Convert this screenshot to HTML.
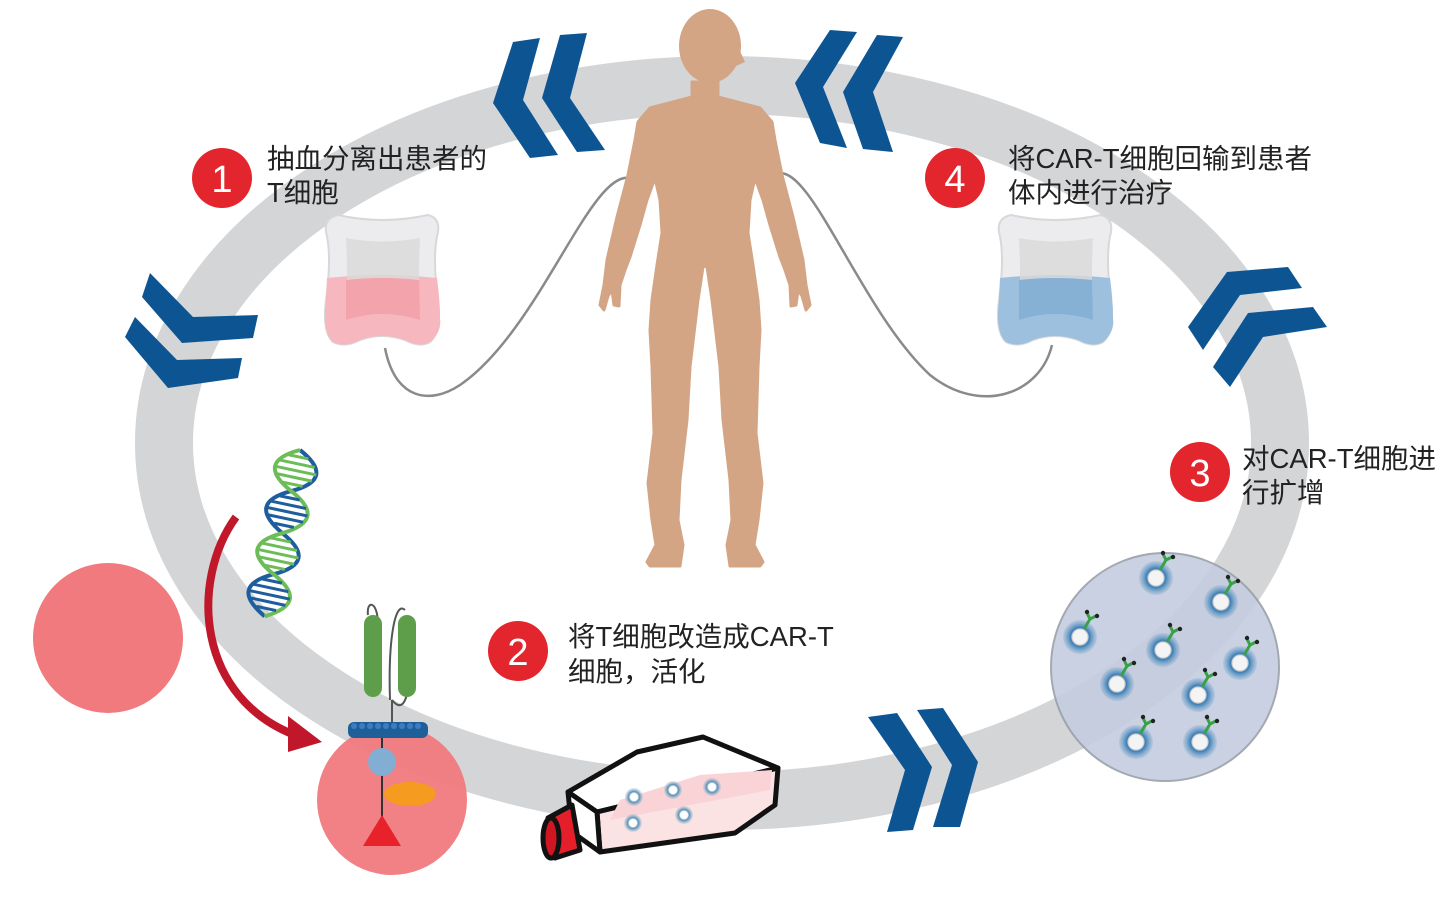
<!DOCTYPE html>
<html><head><meta charset="utf-8"><style>
html,body{margin:0;padding:0;background:#fff;}
svg{display:block}
text{font-family:"Liberation Sans","Noto Sans CJK SC",sans-serif;font-size:27.5px;fill:#222}
</style></head><body>
<svg width="1447" height="921" viewBox="0 0 1447 921" xmlns="http://www.w3.org/2000/svg">
<defs>
<radialGradient id="cg" cx="50%" cy="50%" r="50%"><stop offset="0" stop-color="#fff"/><stop offset="0.35" stop-color="#e8eef2"/><stop offset="0.55" stop-color="#3d7fb5"/><stop offset="1" stop-color="#6aa0c8" stop-opacity="0.2"/></radialGradient>
<radialGradient id="fg" cx="50%" cy="50%" r="50%"><stop offset="0" stop-color="#fff"/><stop offset="0.4" stop-color="#fff"/><stop offset="0.6" stop-color="#5a8fb5"/><stop offset="1" stop-color="#9fc0d8" stop-opacity="0.3"/></radialGradient>
<g id="tc"><circle r="17" fill="url(#cg)"/><circle r="8" fill="#f4f4f4" stroke="#ccc"/><path d="M4 -8 L10 -18 M10 -18 L7 -24 M10 -18 L16 -21" stroke="#3aa048" stroke-width="3" fill="none"/><circle cx="7" cy="-25" r="2.2" fill="#222"/><circle cx="17" cy="-21" r="2.2" fill="#222"/></g>
</defs>

<!-- ring -->
<ellipse cx="722" cy="443" rx="558" ry="358" fill="none" stroke="#d3d5d7" stroke-width="58"/>

<!-- chevrons -->
<g fill="#0d5592">
<polygon points="513,42 540,38 523,100 558,155 530,158 493,103"/>
<polygon points="560,35 587,33 570,98 605,150 577,152 542,98"/>
<polygon points="830,30 857,32 823,87 847,148 820,143 795,83"/>
<polygon points="877,35 903,37 873,92 893,152 863,149 843,92"/>
<polygon points="150,273 193,317 258,315 253,338 182,343 142,297"/>
<polygon points="135,317 177,360 242,358 238,378 168,388 125,337"/>
<polygon points="1188,327 1227,272 1288,267 1302,288 1240,295 1203,350"/>
<polygon points="1213,367 1248,313 1313,307 1327,327 1263,337 1230,387"/>
<polygon points="868,717 897,713 932,767 913,830 887,832 905,770"/>
<polygon points="917,710 943,708 978,762 960,827 933,827 952,765"/>
</g>

<!-- tubes -->
<path d="M385 348 C395 400 430 405 460 385 C540 330 590 170 630 178" fill="none" stroke="#8a8a8a" stroke-width="2.5"/>
<path d="M776 174 C810 160 860 310 930 375 C980 415 1040 395 1052 345" fill="none" stroke="#8a8a8a" stroke-width="2.5"/>

<!-- human -->
<g fill="#d3a585">
<ellipse cx="710" cy="46" rx="31" ry="37"/>
<path d="M735 40 L745 62 L736 66 Z"/>
<polygon stroke="#d3a585" stroke-width="3" stroke-linejoin="round" points="692,82 692,97 650,108 638,122 635,140 628,175 617,217 607,260 604,285 600,305 604,310 608,296 612,290 614,305 619,306 620,285 625,270 630,257 640,225 647,200 655,178 660,200 662,233 657,265 652,300 650,330 652,367 654,433 648,483 652,520 656,545 647,562 650,566 680,566 683,545 678,520 680,480 687,420 690,367 698,300 703,267 705,266 707,267 712,300 720,367 723,420 730,480 732,520 727,545 730,566 760,566 763,562 754,545 758,520 762,483 756,433 758,367 760,330 758,300 753,265 748,233 750,200 755,178 763,200 770,225 780,257 785,270 790,285 791,306 796,305 798,290 802,296 806,310 810,305 806,285 803,260 793,217 782,175 775,140 772,122 760,108 718,97 718,82"/>
</g>

<!-- bags -->
<g>
<path d="M338 215 Q382 225 428 215 Q440 218 438 232 Q432 255 438 300 Q442 332 430 342 Q420 348 405 340 Q382 332 360 340 Q345 348 333 342 Q322 332 326 300 Q332 255 326 232 Q324 218 338 215 Z" fill="#ececee" stroke="#d8d8da" stroke-width="2"/>
<path d="M327 278 Q382 272 437 278 Q440 300 440 318 Q442 332 430 342 Q420 348 405 340 Q382 332 360 340 Q345 348 333 342 Q322 332 326 300 Z" fill="#f6b7be"/>
<path d="M346 238 Q382 245 420 238 Q418 275 420 320 Q382 308 346 320 Q348 275 346 238 Z" fill="#d9d9da" opacity="0.8"/>
<path d="M346 280 Q382 276 419 280 L420 320 Q382 308 346 320 Z" fill="#f2a3ab"/>
</g>
<g transform="translate(673,0)">
<path d="M338 215 Q382 225 428 215 Q440 218 438 232 Q432 255 438 300 Q442 332 430 342 Q420 348 405 340 Q382 332 360 340 Q345 348 333 342 Q322 332 326 300 Q332 255 326 232 Q324 218 338 215 Z" fill="#ececee" stroke="#d8d8da" stroke-width="2"/>
<path d="M327 278 Q382 272 437 278 Q440 300 440 318 Q442 332 430 342 Q420 348 405 340 Q382 332 360 340 Q345 348 333 342 Q322 332 326 300 Z" fill="#9cc0de"/>
<path d="M346 238 Q382 245 420 238 Q418 275 420 320 Q382 308 346 320 Q348 275 346 238 Z" fill="#d9d9da" opacity="0.8"/>
<path d="M346 280 Q382 276 419 280 L420 320 Q382 308 346 320 Z" fill="#86b0d4"/>
</g>

<!-- number badges -->
<g fill="#e3262d">
<circle cx="222" cy="178" r="30"/><circle cx="955" cy="178" r="30"/><circle cx="1200" cy="472" r="30"/><circle cx="518" cy="651" r="30"/>
</g>
<g text-anchor="middle">
<text x="222" y="192" style="fill:#fff;font-size:38px">1</text>
<text x="955" y="192" style="fill:#fff;font-size:38px">4</text>
<text x="1200" y="486" style="fill:#fff;font-size:38px">3</text>
<text x="518" y="665" style="fill:#fff;font-size:38px">2</text>
</g>

<text x="267" y="168">抽血分离出患者的</text>
<text x="267" y="202">T细胞</text>
<text x="1008" y="168">将CAR-T细胞回输到患者</text>
<text x="1008" y="202">体内进行治疗</text>
<text x="1242" y="468">对CAR-T细胞进</text>
<text x="1242" y="502">行扩增</text>
<text x="568" y="646">将T细胞改造成CAR-T</text>
<text x="568" y="681">细胞，活化</text>

<!-- left cell -->
<circle cx="108" cy="638" r="75" fill="#f07a7e"/>

<!-- red arrow -->
<path d="M236 517 C190 580 195 700 300 737" fill="none" stroke="#c0182a" stroke-width="8"/>
<polygon points="288,716 322,742 288,752" fill="#c0182a"/>

<!-- DNA -->
<g transform="translate(300,450) rotate(12)" fill="none">
<path d="M0 0 C28 14 28 28 0 42 C-28 56 -28 70 0 85 C28 99 28 113 0 127 C-28 141 -28 155 0 170" stroke="#1e5d9e" stroke-width="4"/>
<path d="M0 0 C-28 14 -28 28 0 42 C28 56 28 70 0 85 C-28 99 -28 113 0 127 C28 141 28 155 0 170" stroke="#6cbd58" stroke-width="4"/>
<g stroke="#6cbd58" stroke-width="3">
<path d="M-10 7h20M-18 14h36M-21 21h42M-18 28h36M-10 35h20M-10 92h20M-18 99h36M-21 106h42M-18 113h36M-10 120h20"/>
</g>
<g stroke="#1e5d9e" stroke-width="3">
<path d="M-10 49h20M-18 56h36M-21 63h42M-18 70h36M-10 77h20M-10 134h20M-18 141h36M-21 148h42M-18 155h36M-10 162h20"/>
</g>
</g>

<!-- CAR-T cell -->
<circle cx="392" cy="800" r="75" fill="#f07a7e" opacity="0.95"/>
<path d="M368 615 C366 600 378 600 378 625 M390 700 C388 640 395 600 405 610 M392 700 C400 710 405 705 408 690 L408 680 M392 700 L392 722" stroke="#555" stroke-width="2" fill="none"/>
<rect x="364" y="615" width="18" height="82" rx="9" fill="#5e9e4a"/>
<rect x="398" y="615" width="18" height="82" rx="9" fill="#5e9e4a"/>
<rect x="348" y="722" width="80" height="16" rx="6" fill="#1f5f99"/>
<g fill="#3c7cc0"><circle cx="354" cy="726" r="3"/><circle cx="362" cy="726" r="3"/><circle cx="370" cy="726" r="3"/><circle cx="378" cy="726" r="3"/><circle cx="386" cy="726" r="3"/><circle cx="394" cy="726" r="3"/><circle cx="402" cy="726" r="3"/><circle cx="410" cy="726" r="3"/><circle cx="418" cy="726" r="3"/></g>
<line x1="382" y1="738" x2="382" y2="825" stroke="#333" stroke-width="2"/>
<ellipse cx="382" cy="762" rx="14" ry="14" fill="#82aed4"/>
<ellipse cx="410" cy="794" rx="26" ry="12" fill="#f59b1f"/>
<polygon points="382,815 401,846 363,846" fill="#e8222b"/>

<!-- flask -->
<g stroke="#111" stroke-width="5" stroke-linejoin="round">
<polygon points="568,792 637,752 703,737 778,768 597,812" fill="#fff"/>
<polygon points="597,812 778,768 775,805 735,833 600,852" fill="#fbe3e4"/>
<polygon points="568,792 597,812 600,852 572,832" fill="#fff"/>
<path d="M548 818 L572 805 L580 850 L555 858 Z" fill="#e41f2b"/>
<ellipse cx="551" cy="838" rx="8" ry="20" fill="#d01622"/>
</g>
<polygon points="620,800 700,775 772,770 770,790 610,820" fill="#f9d3d6"/>
<g><circle cx="634" cy="797" r="9" fill="url(#fg)"/><circle cx="673" cy="790" r="9" fill="url(#fg)"/><circle cx="712" cy="787" r="9" fill="url(#fg)"/><circle cx="633" cy="823" r="9" fill="url(#fg)"/><circle cx="684" cy="815" r="9" fill="url(#fg)"/></g>

<!-- petri dish -->
<circle cx="1165" cy="667" r="114" fill="#c4cde0" stroke="#9aa0aa" stroke-width="2" opacity="0.9"/>
<use href="#tc" x="1156" y="578"/>
<use href="#tc" x="1221" y="602"/>
<use href="#tc" x="1080" y="637"/>
<use href="#tc" x="1163" y="650"/>
<use href="#tc" x="1240" y="663"/>
<use href="#tc" x="1117" y="684"/>
<use href="#tc" x="1198" y="695"/>
<use href="#tc" x="1136" y="742"/>
<use href="#tc" x="1200" y="742"/>
</svg>
</body></html>
